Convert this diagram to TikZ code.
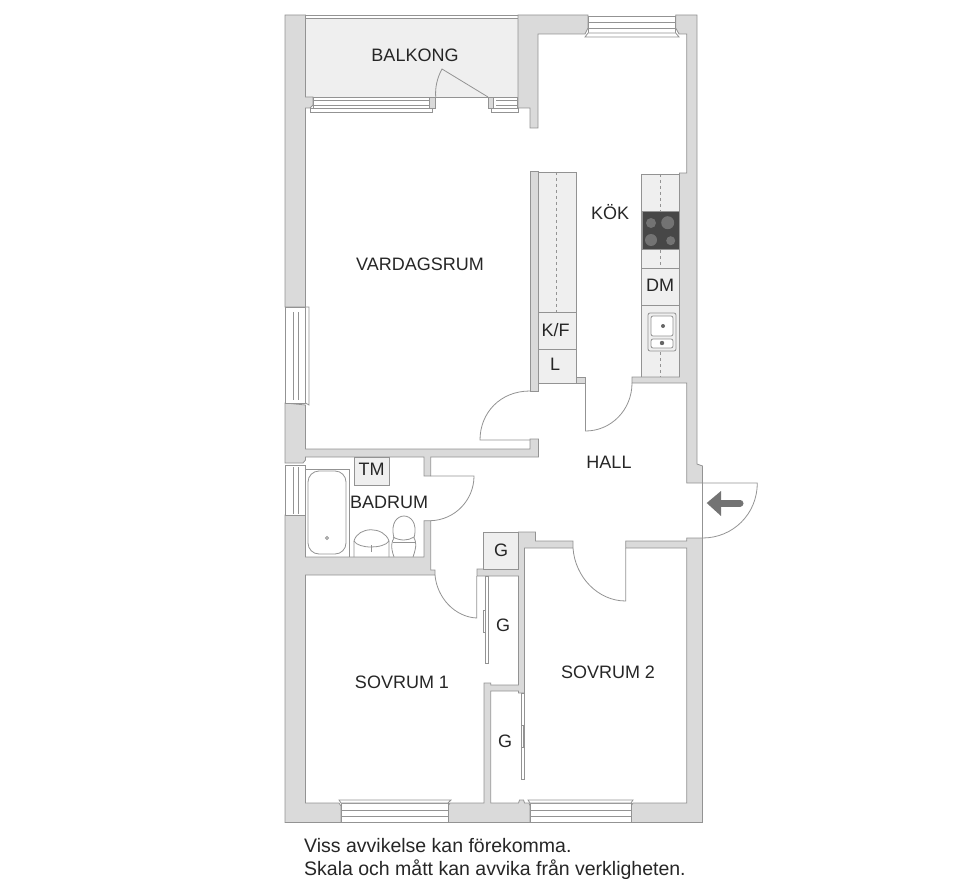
\documentclass[tikz,border=0pt]{standalone}
\usepackage{fontspec}
\setmainfont{Liberation Sans}
\definecolor{wallgray}{HTML}{DADADA}
\definecolor{linegray}{HTML}{939393}
\definecolor{floorgray}{HTML}{EFEFEF}
\definecolor{hobgray}{HTML}{474747}
\tikzset{
    wall/.style={draw=linegray, fill=wallgray, line width=.8pt},
    fixture/.style={draw=linegray, fill=floorgray, line width=.8pt},
    glass/.style={draw=linegray, fill=white, line width=.8pt},
    thin line/.style={draw=linegray, line width=.8pt},
    roomlabel/.style={inner sep=0pt, text=black!85, font=\fontsize{18}{20}\selectfont},
    notelabel/.style={inner sep=0pt, anchor=base west, text=black!85, font=\fontsize{19.5}{22}\selectfont},
}
\begin{document}
\begin{tikzpicture}[x=1pt, y=-1pt]
    \useasboundingbox (0,0) rectangle (960,893);

    \draw[fixture] (305.5,18) rectangle (518,97);
    \draw[thin line] (305.5,15) -- (518,15);

    \draw[fixture] (538,172) rectangle (576,383);
    \draw[thin line] (538,312) -- (576,312);
    \draw[thin line] (538,349) -- (576,349);
    \draw[thin line, dashed] (556.7,172) -- (556.7,312);

    \draw[fixture] (641.5,174) rectangle (679.5,377);
    \draw[thin line] (641.5,268) -- (679.5,268);
    \draw[thin line] (641.5,305.7) -- (679.5,305.7);
    \draw[thin line, dashed] (660,174) -- (660,211);
    \draw[thin line, dashed] (660,250) -- (660,268);
    \draw[thin line, dashed] (660,352) -- (660,377);
    \draw[fill=hobgray, draw=linegray] (642,211.7) rectangle (679.5,249.5);
    \fill[black!55] (651,223) circle (5) (667.7,222.7) circle (6.5) (651,240) circle (6) (670.7,240.7) circle (4.5);

    \draw[fixture, rounded corners=2] (648,313) rectangle (676,351);
    \draw[glass, rounded corners=2] (651,316) rectangle (673,336);
    \draw[glass, rounded corners=2] (651,339) rectangle (673,348);
    \fill[black!60] (663,326) circle (2) (662,343) circle (2.2);

    \draw[wall] (285,15) -- (305.5,15) -- (305.5,97) -- (313,97) -- (313,105) -- (310,108) -- (305.5,108) -- (305.5,307) -- (285,307) -- cycle;
    \draw[wall] (285,403) -- (305.5,405) -- (305.5,449) -- (530,449) -- (530,439) -- (538.5,439) -- (538.5,457) -- (430.7,457) -- (430.7,476) -- (424,476) -- (424,457) -- (305.5,457) -- (305.5,460) -- (303,463) -- (285,463) -- cycle;
    \draw[wall] (285,515) -- (305.5,515) -- (305.5,557) -- (424,557) -- (424,520.7) -- (430.7,520.7) -- (430.7,570) -- (435,570) -- (435,575) -- (305.5,575) -- (305.5,803) -- (339,803) -- (341,806) -- (341,822.5) -- (285,822.5) -- cycle;
    \draw[wall] (448,822.5) -- (448,806) -- (450,803) -- (484,803) -- (484,683) -- (490.7,683) -- (490.7,685) -- (518.5,685) -- (518.5,576) -- (483.5,576) -- (477,576) -- (477,569) -- (518.5,569) -- (518.5,532) -- (535.5,532) -- (535.5,541) -- (573,541) -- (573,548) -- (524.5,548) -- (524.5,693) -- (518.5,693) -- (518.5,691) -- (490.7,691) -- (490.7,803) -- (518.5,803) -- (519.5,800) -- (523.5,800) -- (524.5,803) -- (529,803) -- (530,806) -- (530,822.5) -- cycle;
    \draw[wall] (631,822.5) -- (631,806) -- (633,803) -- (686.7,803) -- (686.7,548) -- (625.7,548) -- (625.7,541) -- (686.7,541) -- (686.7,538) -- (702.5,538) -- (702.5,822.5) -- cycle;
    \draw[wall] (675.7,15) -- (697,15) -- (697,464) -- (702.5,466) -- (702.5,483) -- (686.7,483) -- (686.7,383) -- (632,383) -- (632,377) -- (679.5,377) -- (679.5,173) -- (686.7,173) -- (686.7,34) -- (679,34) -- (675.7,28) -- cycle;
    \draw[wall] (518,15) -- (588,15) -- (588,28) -- (585,34) -- (538,34) -- (538,128) -- (530,128) -- (530,108) -- (518,108) -- cycle;
    \draw[wall] (530,171) -- (538,171) -- (538,391) -- (530,391) -- cycle;
    \draw[wall] (576,377) -- (585.5,377) -- (585.5,383) -- (576,383) -- cycle;
    \draw[wall] (429,97) -- (435.7,97) -- (435.7,108) -- (429,108) -- cycle;
    \draw[wall] (488,97) -- (493,97) -- (493,108) -- (488,108) -- cycle;

    \draw[glass] (313,97) rectangle (429,108);
    \draw[thin line] (313,100) -- (429,100) (313,105) -- (429,105);
    \draw[glass] (310,108) -- (432.7,108) -- (432.7,112) -- (310,112) -- cycle;
    \draw[glass] (493,97) rectangle (517.5,108);
    \draw[thin line] (496,100) -- (517,100) (496,105) -- (517,105);
    \draw[glass] (491,108) rectangle (518,112);
    \draw[glass] (588,16) rectangle (675.7,33);
    \draw[thin line] (588,22) -- (675.7,22) (588,28) -- (675.7,28);
    \draw[glass] (588,33) -- (675.7,33) -- (679,37) -- (585,37) -- cycle;

    \draw[glass] (285,307) rectangle (305.5,403);
    \draw[thin line] (293,312) -- (293,400) (298,312) -- (298,400);
    \draw[glass] (305.5,307) -- (309,307) -- (309,405) -- (305.5,403) -- cycle;
    \draw[glass] (285,465) rectangle (305.5,515);
    \draw[thin line] (293,467) -- (293,514) (298,467) -- (298,514);

    \draw[glass] (341,803) rectangle (448,822.5);
    \draw[thin line] (341,810) -- (448,810) (341,816.6) -- (448,816.6);
    \draw[glass] (341,803) -- (339,800) -- (451,800) -- (448,803) -- cycle;
    \draw[glass] (530,803) rectangle (631,822.5);
    \draw[thin line] (530,810) -- (631,810) (530,816.6) -- (631,816.6);
    \draw[glass] (530,803) -- (528,800) -- (633,800) -- (631,803) -- cycle;

    \draw[thin line] (488,97) -- (442,69) .. controls (437,78) and (435,88) .. (435.7,97);
    \draw[thin line] (530,440) -- (480,440) .. controls (480,413) and (500,391) .. (530,391);
    \draw[thin line] (585.5,383) -- (585.5,431) .. controls (611,431) and (632,410) .. (632,383);
    \draw[thin line] (430.7,476) -- (474,476) .. controls (474,500) and (455,520) .. (430.7,520.7);
    \draw[thin line] (435,575) .. controls (437,598) and (455,617) .. (476.7,618) -- (476.7,576);
    \draw[thin line] (573,548) .. controls (575,577) and (598,601) .. (625.7,601) -- (625.7,548);
    \draw[thin line] (702.5,483) -- (757.3,483) .. controls (757.3,514) and (733,538) .. (702.5,538) -- cycle;

    \draw[glass] (483.5,610) rectangle (485.5,632);
    \draw[glass] (485.5,576) rectangle (488,663);
    \draw[glass] (521,693) rectangle (524.5,779);
    \draw[glass] (521,725) rectangle (523,747);

    \draw[fixture] (483.5,532) rectangle (518.5,569);
    \draw[fixture] (354,457) rectangle (389,485);

    \draw[thin line] (305.5,469) -- (349,469) -- (349,557);
    \draw[thin line, rounded corners=11] (308,471) rectangle (346,554);
    \draw[thin line] (327,538) circle (1.5);
    \draw[thin line] (354,557) -- (354,541) .. controls (358,526) and (384,526) .. (389,541) -- (389,557);
    \draw[thin line] (354,541) .. controls (358,549) and (384,549) .. (389,541);
    \draw[thin line] (371,545) -- (371,552);
    \draw[thin line] (394,557) .. controls (390,546) and (392,541) .. (394,538) .. controls (390,522) and (398,516) .. (404,516) .. controls (410,516) and (418,522) .. (414,538) .. controls (416,541) and (417,546) .. (413,557);
    \draw[thin line] (393,542) -- (415,542);
    \draw[thin line] (393,537) .. controls (400,541) and (408,541) .. (414,537);

    \coordinate (arrowstart) at (740,503);
    \coordinate (arrowneck) at (718,503);
    \fill[black!55] (706.7,503) -- (721,491) -- (721,516) -- cycle;
    \draw[black!55, line width=7pt, line cap=round] (arrowstart) -- (arrowneck);

    \node[roomlabel] (balkong) at (415,55.7) {BALKONG};
    \node[roomlabel] (kok) at (610,212) {KÖK};
    \node[roomlabel] (vardagsrum) at (420,264.5) {VARDAGSRUM};
    \node[roomlabel] (dm) at (660,285.5) {DM};
    \node[roomlabel] (kf) at (555.7,330.5) {K/F};
    \node[roomlabel] (lbox) at (555,364.5) {L};
    \node[roomlabel] (hall) at (609,462.5) {HALL};
    \node[roomlabel] (tm) at (371.7,469.5) {TM};
    \node[roomlabel] (badrum) at (389,502.5) {BADRUM};
    \node[roomlabel] (gone) at (501,550.7) {G};
    \node[roomlabel] (gtwo) at (503,625.7) {G};
    \node[roomlabel] (gthree) at (505,741) {G};
    \node[roomlabel] (sovrumone) at (402,682.5) {SOVRUM 1};
    \node[roomlabel] (sovrumtwo) at (608,672) {SOVRUM 2};
    \node[notelabel] (noteone) at (304,852.7) {Viss avvikelse kan förekomma.};
    \node[notelabel] (notetwo) at (304,875.7) {Skala och mått kan avvika från verkligheten.};
\end{tikzpicture}
\end{document}
